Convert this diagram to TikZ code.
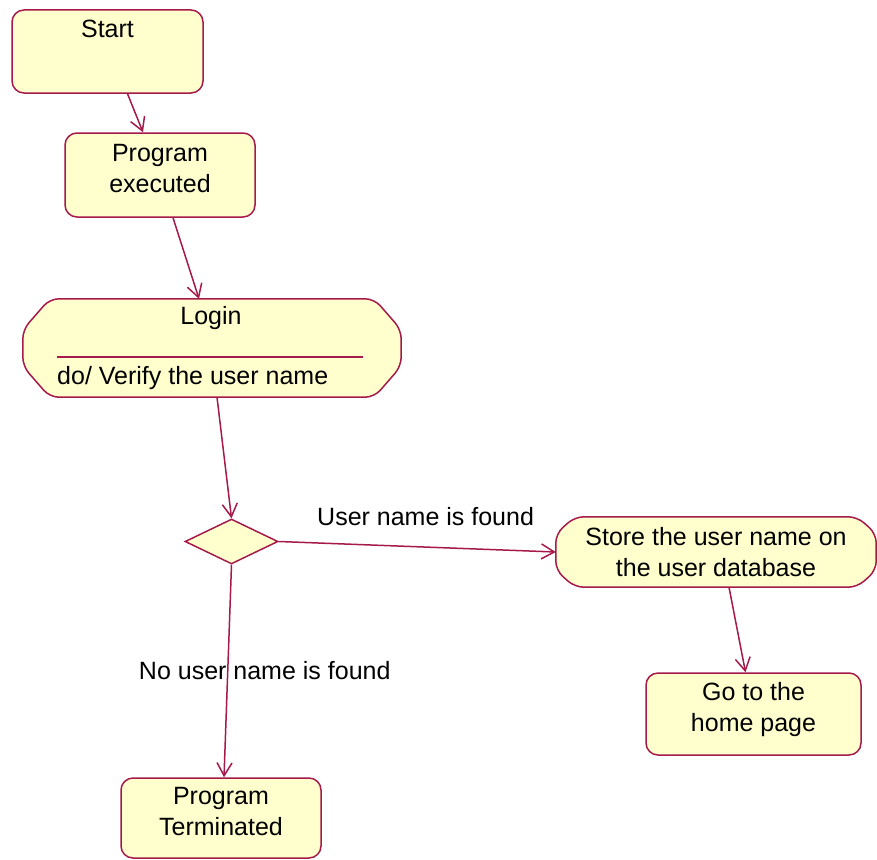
\documentclass[tikz,border=0pt]{standalone}
\usepackage{fontspec}
\setmainfont{Liberation Sans}
\usetikzlibrary{arrows.meta,shapes.geometric,backgrounds}
\definecolor{roseline}{RGB}{165,25,75}
\definecolor{rosefill}{RGB}{255,255,206}
% outline of an activity box: node name, chamfer x, chamfer y
\newcommand\actoutline[3]{%
  \filldraw[actline] ([xshift=#2]#1.north west) -- ([xshift=-#2]#1.north east) -- ([yshift=-#3]#1.north east)
    -- ([yshift=#3]#1.south east) -- ([xshift=-#2]#1.south east) -- ([xshift=#2]#1.south west)
    -- ([yshift=#3]#1.south west) -- ([yshift=-#3]#1.north west) -- cycle;}

\begin{document}
\begin{tikzpicture}[x=1pt,y=-1pt,
    >={Straight Barb[length=13pt,width=15pt]},
    txt/.style={font=\fontsize{25}{31}\selectfont,align=center},
    statebox/.style={txt,draw=roseline,fill=rosefill,line width=1.5pt,rounded corners=12pt,inner sep=0pt,text depth=14pt},
    actbox/.style={txt,inner sep=0pt},
    actline/.style={draw=roseline,fill=rosefill,line width=1.5pt,rounded corners=9pt},
    decbox/.style={diamond,draw=roseline,fill=rosefill,line width=1.5pt,inner sep=0pt},
    flow/.style={->,draw=roseline,line width=1.5pt}]
        \useasboundingbox (0,0) rectangle (877,859);
        \node[statebox,minimum width=191pt,minimum height=83pt] (start) at (107.5,51.5) {Start\\\mbox{}};
        \node[statebox,minimum width=190pt,minimum height=84pt] (prog) at (160,175) {Program\\executed};
        \node[actbox,minimum width=378pt,minimum height=98pt] (login) at (212,348) {};
        \node[actbox,minimum width=320pt,minimum height=70pt] (store) at (716,552) {Store the user name on\\the user database};
        \begin{scope}[on background layer]
          \actoutline{login}{27pt}{31pt}
          \actoutline{store}{19pt}{17pt}
        \end{scope}
        \node[txt] (logintitle) at (211,318) {Login};
        \draw[roseline,line width=1.5pt] (57,357) -- (363,357);
        \node[txt,anchor=west,inner sep=0pt] (logindo) at (57,378) {do/ Verify the user name};
        \node[decbox,minimum width=93pt,minimum height=45pt] (dec) at (231.5,541.5) {};
        \node[statebox,minimum width=215pt,minimum height=82pt] (home) at (753.5,714) {Go to the\\home page};
        \node[statebox,minimum width=200pt,minimum height=80pt] (term) at (221,818) {Program\\Terminated};

        \draw[flow] ([xshift=20pt]start.south) -- ([xshift=-17pt]prog.north);
        \draw[flow] ([xshift=13pt]prog.south) -- ([xshift=-13pt]login.north);
        \draw[flow] ([xshift=5pt]login.south) -- (dec.north);
        \draw[flow] (dec.east) -- (store.west) node[txt,pos=0.53,above=17pt,text=black] {User name is found};
        \draw[flow] (dec.south) -- ([xshift=3pt]term.north) node[txt,midway,xshift=37pt,text=black] {No user name is found};
        \draw[flow] ([xshift=13pt]store.south) -- ([xshift=-8pt]home.north);
      \end{tikzpicture}
\end{document}
